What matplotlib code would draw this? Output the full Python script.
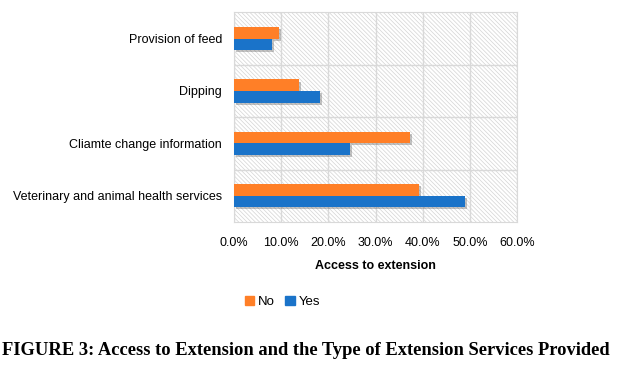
import matplotlib
matplotlib.use("Agg")
import matplotlib.pyplot as plt
import matplotlib.patheffects as pe
from matplotlib.patches import Rectangle, Patch
import numpy as np

categories = ["Veterinary and animal health services", "Cliamte change information",
              "Dipping", "Provision of feed"]
no_vals = [39.3, 37.3, 13.7, 9.6]
yes_vals = [49.0, 24.5, 18.3, 8.1]
xticks = [0, 10, 20, 30, 40, 50, 60]
xtick_labels = ["0.0%", "10.0%", "20.0%", "30.0%", "40.0%", "50.0%", "60.0%"]

plt.rcParams['font.family'] = ['Liberation Sans', 'DejaVu Sans']
plt.rcParams['hatch.linewidth'] = 0.5

fig = plt.figure(figsize=(6.25, 3.67), dpi=100)
ax = fig.add_axes([0.3744, 0.395, 0.4528, 0.5714])

orange = "#FF7F27"
blue = "#1A73C9"
h = 0.22
y = np.arange(len(categories))
shadow = [pe.SimplePatchShadow(offset=(1.5, -1.5), shadow_rgbFace="#555555", alpha=0.35), pe.Normal()]

# hatched background
ax.add_patch(Rectangle((0, 0), 1, 1, transform=ax.transAxes, facecolor="white",
                       edgecolor="#d4d4d4", hatch="\\\\\\\\\\\\\\\\", linewidth=0, zorder=0))

bn = ax.barh(y + h / 2, no_vals, height=h, color=orange, label="No", zorder=3)
by = ax.barh(y - h / 2, yes_vals, height=h, color=blue, label="Yes", zorder=3)
for b in list(bn) + list(by):
    b.set_path_effects(shadow)

ax.set_xlim(0, 60)
ax.set_ylim(-0.5, 3.5)
ax.set_xticks(xticks)
ax.set_xticklabels(xtick_labels, fontsize=9)
ax.set_yticks(y)
ax.set_yticklabels(categories, fontsize=9)
ax.set_yticks([0.5, 1.5, 2.5], minor=True)
ax.grid(True, axis='x', color="#d9d9d9", linewidth=1, zorder=1)
ax.grid(True, axis='y', which='minor', color="#d9d9d9", linewidth=1, zorder=1)
ax.tick_params(axis='both', which='both', length=0)
ax.tick_params(axis='x', pad=11)
ax.tick_params(axis='y', pad=8.5)
for s in ax.spines.values():
    s.set_color("#d9d9d9")
ax.set_xlabel("Access to extension", fontsize=9, fontweight='bold', labelpad=8)

handles = [Patch(color=orange), Patch(color=blue)]
leg = fig.legend(handles, ["No", "Yes"], loc='center', bbox_to_anchor=(0.452, 0.178),
                 ncol=2, frameon=False, fontsize=9.5, handlelength=0.7, handleheight=0.7,
                 handletextpad=0.3, columnspacing=0.8)

fig.text(0.004, 0.045, "FIGURE 3: Access to Extension and the Type of Extension Services Provided",
         family=['Liberation Serif', 'DejaVu Serif'], fontweight='bold', fontsize=13.3,
         ha='left', va='center')

fig.savefig("out.png", dpi=100)
